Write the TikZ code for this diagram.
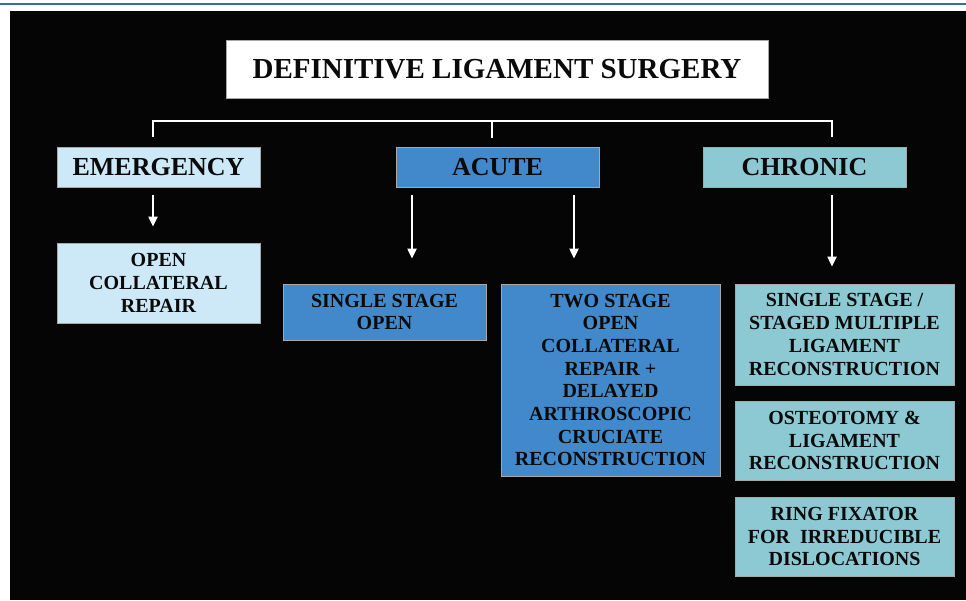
\documentclass[tikz,border=0pt]{standalone}
\usepackage{fontspec}
\setmainfont{Liberation Serif}
\usepackage{tikz}
\usetikzlibrary{arrows.meta, positioning, calc}
\definecolor{panel}{HTML}{050505}
\definecolor{rulebar}{HTML}{2E6DB4}
\definecolor{emerfill}{HTML}{CDE9F8}
\definecolor{acutefill}{HTML}{4289CB}
\definecolor{chronfill}{HTML}{8CC9D2}
\definecolor{edge}{HTML}{A8A8A8}
\definecolor{ink}{HTML}{0A0A0A}

\begin{document}
\begin{tikzpicture}[x=1pt, y=-1pt,
    box/.style={rectangle, draw=edge, line width=0.9pt, text=ink,
                align=center, inner sep=0pt,
                font=\fontsize{20}{22.7}\selectfont\bfseries},
    head/.style={box, minimum width=203pt, minimum height=40pt,
                 font=\fontsize{26}{30}\selectfont\bfseries},
    titlebox/.style={box, fill=white, minimum width=542pt, minimum height=58pt,
                     font=\fontsize{29}{32}\selectfont\bfseries},
    bracket/.style={draw=white, line width=2.2pt},
    arrow/.style={-{Triangle[length=10pt, width=9pt]}, line width=2.2pt, color=white}
  ]
    % Page and panel
    \useasboundingbox (0,0) rectangle (966,600);
    \fill[white] (0,0) rectangle (966,600);
    \draw[rulebar, line width=2pt] (0,3.5) -- (966,3.5);
    \fill[panel] (10,11) rectangle (966,600);

    % Title
    \node[titlebox] (title) at (497,69) {DEFINITIVE LIGAMENT SURGERY};

    % Levels
    \node[head, fill=emerfill] (emer) at (158.5,167) {EMERGENCY};
    \node[head, fill=acutefill] (acute) at (497.5,167) {ACUTE};
    \node[head, fill=chronfill] (chronic) at (804.5,167) {CHRONIC};

    % Treatments
    \node[box, fill=emerfill, minimum width=203pt, minimum height=80pt]
      (collrepair) at (158.5,283) {OPEN\\COLLATERAL\\REPAIR};
    \node[box, fill=acutefill, minimum width=203pt, minimum height=56pt]
      (singleopen) at (384.5,312) {SINGLE STAGE\\OPEN};
    \node[box, fill=acutefill, minimum width=219pt, minimum height=192pt]
      (twostage) at (610.5,380)
      {TWO STAGE\\OPEN\\COLLATERAL\\REPAIR +\\DELAYED\\ARTHROSCOPIC\\CRUCIATE\\RECONSTRUCTION};
    \node[box, fill=chronfill, minimum width=219pt, minimum height=101pt]
      (multilig) at (844.5,334.5)
      {SINGLE STAGE /\\STAGED MULTIPLE\\LIGAMENT\\RECONSTRUCTION};
    \node[box, fill=chronfill, minimum width=219pt, minimum height=79pt]
      (osteo) at (844.5,440.5) {OSTEOTOMY \&\\LIGAMENT\\RECONSTRUCTION};
    \node[box, fill=chronfill, minimum width=219pt, minimum height=79pt]
      (ringfix) at (844.5,536.5) {RING FIXATOR\\FOR\ \ IRREDUCIBLE\\DISLOCATIONS};

    % Bracket
    \coordinate (brL) at (153,121);
    \coordinate (brC) at (492,121);
    \coordinate (brR) at (832,121);
    \draw[bracket] ([yshift=10pt]emer.north -| brL) -- (brL) -- (brR)
      -- ([yshift=10pt]chronic.north -| brR);
    \draw[bracket] (brC) -- ([yshift=9pt]acute.north -| brC);

    % Arrows
    \draw[arrow, shorten <=8pt, shorten >=16pt] (emer.south -| brL) -- (collrepair.north -| brL);
    \draw[arrow, shorten <=8pt, shorten >=25pt] ([xshift=-85.5pt]acute.south) -- ([xshift=-85.5pt]acute.south |- singleopen.north);
    \draw[arrow, shorten <=8pt, shorten >=25pt] ([xshift=76.5pt]acute.south) -- ([xshift=76.5pt]acute.south |- twostage.north);
    \draw[arrow, shorten <=8pt, shorten >=17pt] (chronic.south -| brR) -- (multilig.north -| brR);
  \end{tikzpicture}
\end{document}
